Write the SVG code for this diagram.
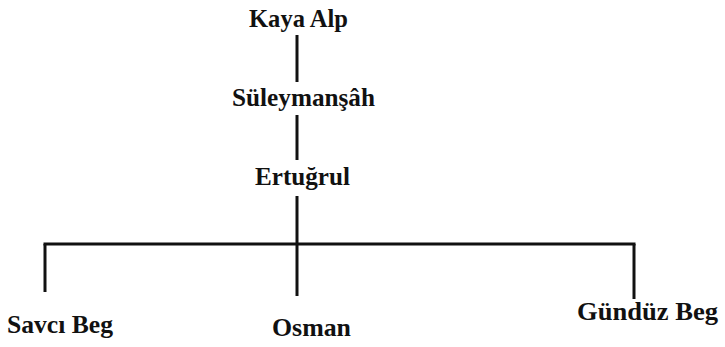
<svg xmlns="http://www.w3.org/2000/svg" width="725" height="347" viewBox="0 0 725 347">
<style>
text{font-family:"Liberation Serif","Times New Roman",serif;font-weight:bold;font-size:25px;fill:#111}
.c line{stroke:#111;stroke-width:3;stroke-linecap:butt}
</style>
<rect width="725" height="347" fill="#fff"/>
<g class="c" id="connectors">
<line x1="297" y1="35" x2="297" y2="82"/>
<line x1="297" y1="115" x2="297" y2="160"/>
<line x1="297" y1="196" x2="297" y2="296"/>
<line x1="43.5" y1="244" x2="635.5" y2="244"/>
<line x1="45" y1="244" x2="45" y2="292"/>
<line x1="634" y1="244" x2="634" y2="299"/>
</g>
<g id="kaya"><text x="249" y="27" textLength="99" lengthAdjust="spacingAndGlyphs">Kaya Alp</text></g>
<g id="suleyman"><text x="232" y="106" textLength="143" lengthAdjust="spacingAndGlyphs">Süleymanşâh</text></g>
<g id="ertugrul"><text x="255" y="185" textLength="95" lengthAdjust="spacingAndGlyphs">Ertuğrul</text></g>
<g id="savci"><text x="7" y="333" textLength="106" lengthAdjust="spacingAndGlyphs">Savcı Beg</text></g>
<g id="osman"><text x="272" y="336" textLength="79" lengthAdjust="spacingAndGlyphs">Osman</text></g>
<g id="gunduz"><text x="577" y="320" textLength="141" lengthAdjust="spacingAndGlyphs">Gündüz Beg</text></g>
</svg>
